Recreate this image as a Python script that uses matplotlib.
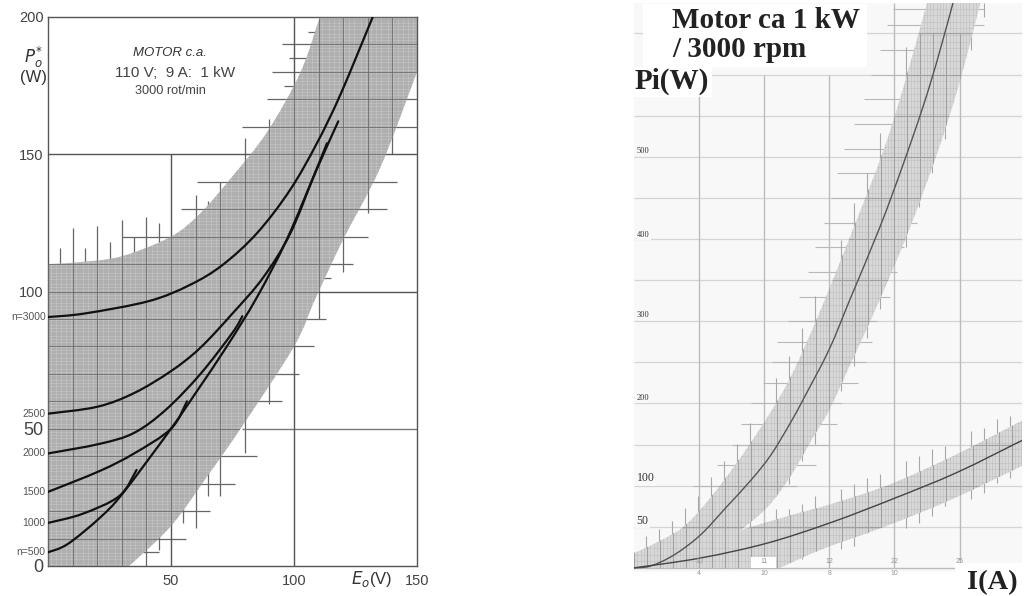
import numpy as np
import matplotlib
matplotlib.use('Agg')
import matplotlib.pyplot as plt
from matplotlib.patches import PathPatch, Rectangle
from matplotlib.path import Path

plt.rcParams['font.family'] = ['Liberation Sans', 'DejaVu Sans']
plt.rcParams['mathtext.fontset'] = 'dejavusans'

# ---- panel izquierdo: P0 vs E0 ----
e_n3000 = [0, 15, 41, 57.7, 71, 85, 98.4, 109.3, 119, 132]
p_n3000 = [90.7, 92, 96.5, 102.4, 109.7, 121.3, 137, 154, 172, 200]
e_n2500 = [0, 20, 35, 50, 61.8, 75, 87.4, 98.4, 108, 113.4]
p_n2500 = [55.5, 58, 63, 71, 79.4, 92, 105, 121, 142, 154]
e_n2000 = [0, 21, 35, 48, 62, 75, 79]
p_n2000 = [41, 44.5, 48.5, 57, 70, 85, 91]
e_n1500 = [0, 21, 35, 50, 56.5]
p_n1500 = [27, 34.6, 41, 50, 60]
e_n1000 = [0, 14, 29, 36]
p_n1000 = [15.7, 19, 25.5, 35]
e_n500 = [0, 8, 21, 30.5, 50, 60, 72.7, 85, 97, 109, 118]
p_n500 = [5, 8, 17.5, 26.6, 50, 63, 80, 98, 118.8, 144, 162]
curvas_izq = [(e_n3000, p_n3000), (e_n2500, p_n2500), (e_n2000, p_n2000),
              (e_n1500, p_n1500), (e_n1000, p_n1000), (e_n500, p_n500)]

# limites de la banda rayada
e_sup = [0, 10, 29, 50, 62, 75, 89, 102.5, 110.5]
p_sup = [110, 110.5, 112.6, 120, 128.6, 142, 158, 179.6, 200]
e_inf = [33, 50, 65, 79, 100, 108.5, 120, 135, 150]
p_inf = [0, 14.6, 33, 51, 80, 97, 119, 145, 180]

# rayitas que salen de la banda
v_top_e = [5, 10, 15, 20, 25, 30, 35, 40, 45, 60, 65, 70, 75, 80, 85, 90]
v_top_p = [116, 123, 116, 124, 118, 126, 120, 127, 125, 135, 133, 140, 142, 156, 153, 163]
v_bot_e = [40, 45, 55, 60, 65, 70, 80, 90, 110, 120, 130, 140]
v_bot_p = [0, 6, 15.7, 14, 25.5, 25.5, 41, 59, 90, 107, 128.6, 150]
v_bot_t = [20, 20, 30, 35, 45, 50, 60, 75, 115, 130, 150, 165]
h_lft_p = [194.5, 190, 185, 180, 175, 170, 160, 140, 130, 120]
h_lft_e = [105.7, 95, 98, 91, 96, 89, 79, 60.5, 54, 30]
h_lft_t = [125, 125, 125, 125, 125, 125, 120, 100, 95, 80]
h_rgt_p = [170, 160, 140, 130, 120, 110, 105, 90, 80, 70, 60, 40, 30, 20, 10, 5]
h_rgt_t = [125, 120, 105, 100, 90, 80, 80, 70, 65, 60, 55, 50, 45, 30, 20, 20]
h_rgt_e = [150, 150, 142, 138, 130, 124, 115, 113, 108, 102, 95, 85, 76, 66, 56, 45]

# etiquetas de velocidad
n_labels = ['n=3000', '2500', '2000', '1500', '1000', 'n=500']
n_values = [90.7, 55.5, 41, 27, 15.7, 5]

# ---- panel derecho: Pi vs I ----
i_main = [0, 1.3, 3.1, 5.1, 7.1, 9, 10.5, 12, 13.1, 15, 16.6, 18.9, 20.7, 22.2, 23.3, 24.5]
pi_main = [0, 2.4, 16, 40, 74, 107, 137, 176, 208, 266, 327, 415, 492, 561, 618, 687]
i_low = [0, 5.1, 10.2, 15.1, 19.9, 24.8, 29.8]
pi_low = [0, 12, 30, 55, 84, 116, 155]

i_up1 = [0, 1.5, 3.8, 5.9, 7.9, 9.5, 11.8, 14.1, 16.8, 19.1, 20.7, 22.5]
pi_up1 = [18, 29, 50, 86, 128, 165, 225, 305, 411, 505, 585, 687]
i_dn1 = [8.2, 10.2, 12, 13.8, 15, 16.8, 18.9, 21.2, 23.3, 25, 26.6]
pi_dn1 = [46, 73, 111, 160, 192, 254, 327, 414, 505, 590, 687]
i_up2 = [8.2, 11.8, 15, 19.4, 24.5, 29.8]
pi_up2 = [46, 63, 77, 100, 136, 179]
i_dn2 = [11.2, 14.5, 19.4, 24.5, 29.8]
pi_dn2 = [0, 23, 51, 84, 124]

# rayitas horizontales de la banda principal
hs_p = [100, 125, 150, 175, 200, 225, 250, 275, 300, 330, 360, 390, 420, 450, 480,
        510, 540, 570, 600, 630, 660, 680]
hs_a = [4.5, 6.4, 7.5, 8.2, 9.0, 9.9, 10.6, 11.0, 11.8, 12.7, 13.4, 13.9, 14.6, 15.1,
        15.6, 16.1, 16.9, 17.7, 18.2, 18.9, 19.4, 19.9]
hs_b = [12.5, 14.0, 15, 15.6, 15.9, 17.2, 17.8, 18.3, 18.7, 19.7, 20.2, 20.7, 21.7, 22,
        22.3, 22.8, 23.6, 24.1, 24.6, 25.1, 26.9, 26.9]
# rayitas verticales banda principal
vs_i = [0.9, 1.9, 2.9, 3.9, 4.9, 5.9, 6.9, 7.9, 8.9, 10.9, 11.9, 12.9, 13.9, 15.9, 16.9,
        17.9, 18.9, 20.9]
vs_p = [39, 47, 57, 73, 88, 110, 130, 151, 176, 231, 258, 292, 331, 399, 444, 480, 529, 633]
vs_b = [0, 0, 0, 0, 0, 0, 0, 0, 0, 100, 130, 160, 190, 260, 300, 340, 380, 450]
vd_i = [10.9, 11.9, 12.9, 13.9, 15.9, 16.9, 17.9, 18.9, 20.9, 21.9, 22.9, 23.9, 25.9, 26.9]
vd_p = [88, 102, 130, 151, 215, 246, 280, 315, 390, 439, 480, 521, 630, 670]
vd_t = [150, 200, 250, 280, 340, 380, 440, 500, 600, 650, 687, 687, 687, 687]
# rayitas verticales banda inferior
v2_i = [10.9, 11.9, 12.9, 13.9, 15.9, 16.9, 17.9, 18.9, 20.9, 21.9, 22.9, 23.9, 25.9, 26.9, 27.9, 28.9]
v2_t = [72, 72, 78, 88, 96, 102, 109, 114, 130, 136, 145, 148, 167, 170, 181, 185]
v2_b = [0, 11, 11, 23, 23, 27, 43, 51, 49, 55, 63, 75, 84, 91, 103, 109]

y_marks = [507, 405, 308, 207, 109, 57]
y_texts = ['500', '400', '300', '200', '100', '50']
x_top = ['10', '11', '12', '22', '25']
x_bot = ['4', '10', '8', '10']


def suave(x, y):
    #Tramos bezier (Catmull-Rom) que pasan por los puntos leidos
    pts = np.column_stack([x, y]).astype(float)
    verts, codes = [], []
    for k in range(len(pts) - 1):
        p0 = pts[max(k - 1, 0)]
        p1 = pts[k]
        p2 = pts[k + 1]
        p3 = pts[min(k + 2, len(pts) - 1)]
        verts += [p1 + (p2 - p0) / 6, p2 - (p3 - p1) / 6, p2]
        codes += [Path.CURVE4] * 3
    return verts, codes


def curva(ax, x, y, color, lw):
    verts, codes = suave(x, y)
    ruta = Path([(x[0], y[0])] + verts, [Path.MOVETO] + codes)
    ax.add_patch(PathPatch(ruta, fc='none', ec=color, lw=lw, zorder=5, capstyle='round'))


def banda(ax, x1, y1, x2, y2, extra, cola, fc):
    #Contorno: borde superior, esquinas extra, borde inferior invertido y cola
    v1, c1 = suave(x1, y1)
    v2, c2 = suave(x2[::-1], y2[::-1])
    verts = [(x1[0], y1[0])] + v1 + list(extra) + [(x2[-1], y2[-1])] + v2 + list(cola)
    codes = [Path.MOVETO] + c1 + [Path.LINETO] * (len(extra) + 1) + c2 + [Path.LINETO] * len(cola)
    verts = verts + [(x1[0], y1[0])]
    codes = codes + [Path.CLOSEPOLY]
    pat = PathPatch(Path(verts, codes), fc=fc, ec='none', zorder=2)
    ax.add_patch(pat)
    return pat


def rayado(ax, pat, xs, ys, color, lw):
    #Dibuja la rejilla fina recortada a la banda
    for x in xs:
        ln, = ax.plot([x, x], [ys[0], ys[-1]], color=color, lw=lw, zorder=3)
        ln.set_clip_path(pat)
    for y in ys:
        ln, = ax.plot([xs[0], xs[-1]], [y, y], color=color, lw=lw, zorder=3)
        ln.set_clip_path(pat)


fig = plt.figure(figsize=(10.35, 5.96), dpi=100)

# panel izquierdo
ax = fig.add_axes([48 / 1035, 1 - 566 / 596, 369 / 1035, 549 / 596])
ax.set_xlim(0, 150)
ax.set_ylim(0, 200)

ax.vlines(v_top_e, 100, v_top_p, color='#666666', lw=0.9, zorder=1)
ax.vlines(v_bot_e, v_bot_p, v_bot_t, color='#666666', lw=0.9, zorder=1)
ax.hlines(h_lft_p, h_lft_e, h_lft_t, color='#666666', lw=0.9, zorder=1)
ax.hlines(h_rgt_p, h_rgt_t, h_rgt_e, color='#666666', lw=0.9, zorder=1)
ax.hlines([100, 150], 0, 150, color='#555555', lw=1.0, zorder=1)
ax.hlines(50, 79, 150, color='#777777', lw=1.0, zorder=1)
ax.vlines(50, 0, 150, color='#555555', lw=1.0, zorder=1)
ax.vlines(100, 0, 200, color='#555555', lw=1.0, zorder=1)

pat = banda(ax, e_sup, p_sup, e_inf, p_inf, [(150, 200)], [(0, 0)], '#c8c8c8')
rayado(ax, pat, np.arange(0, 151, 1), np.arange(0, 201, 1), '#8f8f8f', 0.35)
rayado(ax, pat, np.arange(0, 151, 10), np.arange(0, 201, 10), '#666666', 0.55)

for ex, py in curvas_izq:
    curva(ax, ex, py, '#111111', 1.6)

ax.set_xticks([50, 100, 150])
ax.set_xticklabels(['50', '100', '150'], fontsize=10.5, color='#444444')
ax.set_yticks([0, 50, 100, 150, 200])
ax.set_yticklabels(['0', '50', '100', '150', '200'], fontsize=10.5, color='#444444')
ax.get_yticklabels()[1].set_fontsize(13)
ax.get_yticklabels()[0].set_fontsize(13)
ax.tick_params(length=0, pad=3)
ax.tick_params(axis='x', pad=6)
for s in ax.spines.values():
    s.set_color('#555555')
    s.set_linewidth(1.0)
for t, v in zip(n_labels, n_values):
    ax.text(-1, v, t, ha='right', va='center', fontsize=7.5, color='#555555')

ax.text(49.6, 187, 'MOTOR c.a.', ha='center', va='center', fontsize=9.5, style='italic', color='#333333')
ax.text(51.6, 179.6, '110 V;  9 A:  1 kW', ha='center', va='center', fontsize=11, color='#444444')
ax.text(49.6, 173, '3000 rot/min', ha='center', va='center', fontsize=9.2, color='#444444')
ax.text(-6, 185.4, "$P_o^{*}$", ha='center', va='center', fontsize=12, color='#333333')
ax.text(-6, 177.8, '(W)', ha='center', va='center', fontsize=12, color='#333333')
ax.text(131.7, -4.7, "$E_o$(V)", ha='center', va='center', fontsize=12, color='#333333')

# panel derecho
ax2 = fig.add_axes([634 / 1035, 1 - 572 / 596, 388 / 1035, 569 / 596])
ax2.set_xlim(0, 29.8)
ax2.set_ylim(-5, 687)
ax2.set_facecolor('#f8f8f8')
ax2.set_xticks([])
ax2.set_yticks([])
for s in ax2.spines.values():
    s.set_visible(False)

ax2.hlines(np.arange(50, 651, 50), 0, 29.8, color='#d4d4d4', lw=0.9, zorder=1)
ax2.hlines(0, 0, 29.8, color='#bbbbbb', lw=1.0, zorder=1)
ax2.vlines([5, 10, 15], 0, 600, color='#bcbcbc', lw=1.0, zorder=1)
ax2.vlines([20, 25], 0, 687, color='#bcbcbc', lw=1.0, zorder=1)

ax2.hlines(hs_p, hs_a, hs_b, color='#b8b8b8', lw=0.8, zorder=1)
ax2.vlines(vs_i, vs_b, vs_p, color='#a8a8a8', lw=0.8, zorder=1)
ax2.vlines(vd_i, vd_p, vd_t, color='#a8a8a8', lw=0.8, zorder=1)
ax2.vlines(v2_i, v2_b, v2_t, color='#a8a8a8', lw=0.8, zorder=1)

pat1 = banda(ax2, i_up1, pi_up1, i_dn1, pi_dn1, [], [(8.2, 0), (0, 0)], '#d8d8d8')
pat2 = banda(ax2, i_up2, pi_up2, i_dn2, pi_dn2, [(29.8, 124)], [(8.2, 0)], '#d8d8d8')
for p in [pat1, pat2]:
    rayado(ax2, p, np.arange(0, 30, 0.25), np.arange(0, 690, 8), '#bebebe', 0.4)
    rayado(ax2, p, np.arange(0, 30, 1), np.arange(0, 690, 50), '#a0a0a0', 0.8)

curva(ax2, i_main, pi_main, '#555555', 1.0)
curva(ax2, i_low, pi_low, '#444444', 1.0)

ax2.add_patch(Rectangle((9.0, 0), 1.9, 13, fc='white', ec='none', zorder=5))

for v, t in zip(y_marks, y_texts):
    big = t in ('100', '50')
    ax2.text(0.2, v, t, ha='left', va='center', family='Liberation Serif',
             fontsize=8.5 if big else 6, color='#333333', zorder=6,
             bbox=dict(fc='#f8f8f8', ec='none', pad=1))
for x, t in zip([5, 10, 15, 20, 25], x_top):
    ax2.text(x, 8, t, ha='center', va='center', fontsize=5, color='#999999', zorder=6)
for x, t in zip([5, 10, 15, 20], x_bot):
    ax2.text(x, -3, t, ha='center', va='top', fontsize=5, color='#999999', clip_on=False)

# cajas blancas pegadas sobre el grafico
for x0, y0, x1, y1 in [(643, 4, 867, 67), (634, 67, 712, 97), (955, 563, 1035, 596)]:
    fig.add_artist(Rectangle((x0 / 1035, 1 - y1 / 596), (x1 - x0) / 1035, (y1 - y0) / 596,
                             transform=fig.transFigure, fc='white', ec='none', zorder=2))

fig.text(672 / 1035, 1 - 35 / 596, 'Motor ca 1 kW\n/ 3000 rpm', ha='left', va='center',
         family='Liberation Serif', weight='bold', fontsize=21, color='#222222',
         linespacing=1.05)
fig.text(635 / 1035, 1 - 81 / 596, 'Pi(W)', ha='left', va='center',
         family='Liberation Serif', weight='bold', fontsize=21, color='#222222')
fig.text(967 / 1035, 1 - 583 / 596, 'I(A)', ha='left', va='center',
         family='Liberation Serif', weight='bold', fontsize=20.5, color='#222222')

fig.savefig('out.png', dpi=100)
